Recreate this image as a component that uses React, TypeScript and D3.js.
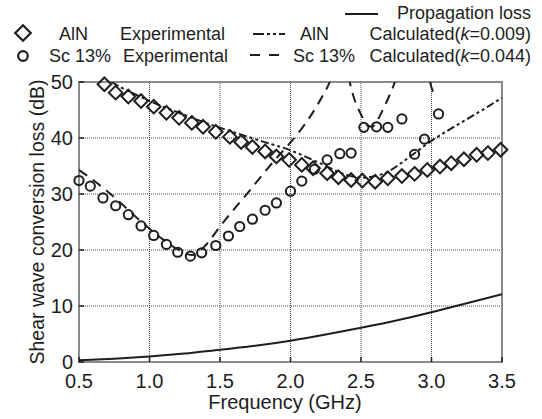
import React from 'react';
import * as d3 from 'd3';

// AlN experimental (diamonds)
const alnExpFreq = [0.68, 0.76, 0.85, 0.94, 1.03, 1.12, 1.21, 1.30, 1.38, 1.47, 1.57, 1.65, 1.73, 1.82, 1.90, 1.99, 2.08, 2.16, 2.26, 2.34, 2.43, 2.51, 2.60, 2.69, 2.79, 2.88, 2.97, 3.06, 3.14, 3.23, 3.32, 3.40, 3.49];
const alnExpLoss = [49.6, 48.1, 47.4, 46.6, 45.6, 44.5, 43.6, 42.7, 42.0, 41.1, 40.2, 39.3, 38.4, 37.6, 36.7, 36.1, 35.2, 34.6, 33.7, 33.0, 32.5, 32.4, 32.2, 32.8, 33.2, 33.6, 34.3, 34.9, 35.5, 36.2, 37.0, 37.3, 37.9];

// Sc 13% experimental (circles)
const scExpFreq = [0.50, 0.58, 0.67, 0.76, 0.85, 0.94, 1.03, 1.12, 1.20, 1.29, 1.37, 1.47, 1.56, 1.64, 1.73, 1.82, 1.90, 2.00, 2.08, 2.17, 2.26, 2.35, 2.43, 2.52, 2.61, 2.69, 2.79, 2.88, 2.95, 3.05];
const scExpLoss = [32.4, 31.4, 29.3, 27.9, 26.3, 24.3, 22.6, 21.0, 19.6, 18.9, 19.5, 20.8, 22.5, 24.2, 25.5, 27.1, 28.4, 30.5, 32.3, 34.4, 36.1, 37.2, 37.3, 41.9, 42.0, 41.9, 43.4, 37.1, 39.8, 44.3];

// AlN calculated (k=0.009)
const alnCalcFreq = [0.73, 0.8, 0.9, 1.0, 1.2, 1.4, 1.6, 1.8, 2.0, 2.2, 2.4, 2.5, 2.6, 2.7, 2.8, 3.0, 3.2, 3.4, 3.5];
const alnCalcLoss = [50.0, 49.0, 47.8, 46.6, 44.6, 42.7, 41.0, 39.4, 37.8, 35.6, 33.4, 32.9, 33.2, 34.1, 35.8, 39.5, 42.6, 45.6, 47.2];

// Sc 13% calculated (k=0.044), three branches between resonances
const scCalcFreq1 = [0.5, 0.6, 0.7, 0.8, 0.9, 1.0, 1.1, 1.2, 1.3, 1.4, 1.5, 1.6, 1.7, 1.8, 1.9, 2.0, 2.1, 2.2, 2.3, 2.34];
const scCalcLoss1 = [34.3, 32.5, 30.5, 28.3, 26.0, 23.8, 21.8, 20.1, 19.1, 20.9, 24.2, 27.3, 30.3, 33.4, 36.4, 39.2, 42.4, 46.3, 51.5, 55.0];
const scCalcFreq2 = [2.39, 2.42, 2.45, 2.50, 2.55, 2.58, 2.62, 2.66, 2.70, 2.74, 2.78];
const scCalcLoss2 = [54.0, 50.0, 47.2, 44.2, 42.2, 42.0, 43.3, 45.3, 47.5, 50.0, 53.5];
const scCalcFreq3 = [2.97, 2.99, 3.02];
const scCalcLoss3 = [53.0, 50.0, 47.8];

// Propagation loss
const propFreq = [0.5, 0.75, 1.0, 1.25, 1.5, 1.75, 2.0, 2.25, 2.5, 2.75, 3.0, 3.25, 3.5];
const propLoss = [0.3, 0.6, 1.0, 1.5, 2.2, 2.9, 3.8, 4.9, 6.1, 7.4, 8.9, 10.5, 12.1];

const xTicks = [0.5, 1.0, 1.5, 2.0, 2.5, 3.0, 3.5];
const yTicks = [0, 10, 20, 30, 40, 50];

const W = 542;
const H = 419;
const font = '"Liberation Sans", Arial, sans-serif';
const ink = '#1e1e1e';

const zip = (f: number[], v: number[]) => f.map((d, i) => [d, v[i]] as [number, number]);

export default function App() {
  const x = d3.scaleLinear().domain([0.5, 3.5]).range([79, 502]);
  const y = d3.scaleLinear().domain([0, 50]).range([362, 82]);

  const line = d3.line<[number, number]>()
    .x(d => x(d[0]))
    .y(d => y(d[1]))
    .curve(d3.curveMonotoneX);

  const diamond = 'M0,-6.8L6.8,0L0,6.8L-6.8,0Z';
  const bigDiamond = 'M0,-7.8L7.8,0L0,7.8L-7.8,0Z';

  return (
    <svg width={W} height={H} style={{ position: 'absolute', left: 0, top: 0, background: '#fff' }} fontFamily={font}>
      <defs>
        <clipPath id="plot">
          <rect x={x(0.5)} y={y(50)} width={x(3.5) - x(0.5)} height={y(0) - y(50)} />
        </clipPath>
      </defs>

      {/* grid */}
      {xTicks.slice(1, -1).map(t => (
        <line key={'gx' + t} x1={x(t)} x2={x(t)} y1={y(0)} y2={y(50)} stroke="#444" strokeWidth={1} strokeDasharray="1,1" />
      ))}
      {yTicks.slice(1, -1).map(t => (
        <line key={'gy' + t} x1={x(0.5)} x2={x(3.5)} y1={y(t)} y2={y(t)} stroke="#444" strokeWidth={1} strokeDasharray="1,1" />
      ))}

      {/* frame */}
      <rect x={x(0.5)} y={y(50)} width={x(3.5) - x(0.5)} height={y(0) - y(50)} fill="none" stroke="#8a8a8a" strokeWidth={2} />
      {xTicks.map(t => (
        <line key={'tx' + t} x1={x(t)} x2={x(t)} y1={y(0)} y2={y(0) - 5} stroke={ink} strokeWidth={1.5} />
      ))}
      {yTicks.map(t => (
        <line key={'ty' + t} x1={x(0.5)} x2={x(0.5) + 5} y1={y(t)} y2={y(t)} stroke={ink} strokeWidth={1.5} />
      ))}

      {/* curves */}
      <g clipPath="url(#plot)" fill="none" stroke={ink} strokeWidth={2}>
        <path d={line(zip(propFreq, propLoss)) || ''} />
        <path d={line(zip(alnCalcFreq, alnCalcLoss)) || ''} strokeDasharray="8,3,3,3,3,3" />
        <path d={line(zip(scCalcFreq1, scCalcLoss1)) || ''} strokeDasharray="10,7" />
        <path d={line(zip(scCalcFreq2, scCalcLoss2)) || ''} strokeDasharray="10,7" />
        <path d={line(zip(scCalcFreq3, scCalcLoss3)) || ''} strokeDasharray="10,7" />
      </g>

      {/* markers */}
      <g fill="none" stroke={ink} strokeWidth={2}>
        {alnExpFreq.map((f, i) => (
          <path key={'d' + i} d={diamond} transform={`translate(${x(f)},${y(alnExpLoss[i])})`} />
        ))}
        {scExpFreq.map((f, i) => (
          <circle key={'c' + i} cx={x(f)} cy={y(scExpLoss[i])} r={4.6} />
        ))}
      </g>

      {/* tick labels */}
      <g fill={ink} fontSize={20}>
        {xTicks.map(t => (
          <text key={'lx' + t} x={x(t)} y={388} textAnchor="middle">{t.toFixed(1)}</text>
        ))}
        {yTicks.map(t => (
          <text key={'ly' + t} x={73} y={y(t) + 7} textAnchor="end">{t}</text>
        ))}
        <text x={285} y={409} textAnchor="middle">Frequency (GHz)</text>
        <text transform={`translate(44,${(y(0) + y(50)) / 2}) rotate(-90)`} textAnchor="middle" fontSize={19.5}>Shear wave conversion loss (dB)</text>
      </g>

      {/* legend */}
      <g fill={ink} fontSize={18}>
        <line x1={345} x2={378} y1={14} y2={14} stroke={ink} strokeWidth={2} />
        <text x={531} y={19} textAnchor="end">Propagation loss</text>

        <path d={bigDiamond} transform="translate(23,33)" fill="none" stroke={ink} strokeWidth={2.2} />
        <text x={59} y={40}>AlN</text>
        <text x={120} y={40}>Experimental</text>
        <line x1={253} x2={285} y1={34} y2={34} stroke={ink} strokeWidth={2} strokeDasharray="11,3,3,3,3,3" />
        <text x={300} y={40}>AlN</text>
        <text x={531} y={40} textAnchor="end">Calculated(<tspan fontStyle="italic">k</tspan>=0.009)</text>

        <circle cx={23} cy={56} r={4.8} fill="none" stroke={ink} strokeWidth={2.2} />
        <text x={49} y={61.5}>Sc 13%</text>
        <text x={123} y={61.5}>Experimental</text>
        <line x1={250} x2={282} y1={55} y2={55} stroke={ink} strokeWidth={2} strokeDasharray="10,9" />
        <text x={293} y={61.5}>Sc 13%</text>
        <text x={531} y={61.5} textAnchor="end">Calculated(<tspan fontStyle="italic">k</tspan>=0.044)</text>
      </g>
    </svg>
  );
}
